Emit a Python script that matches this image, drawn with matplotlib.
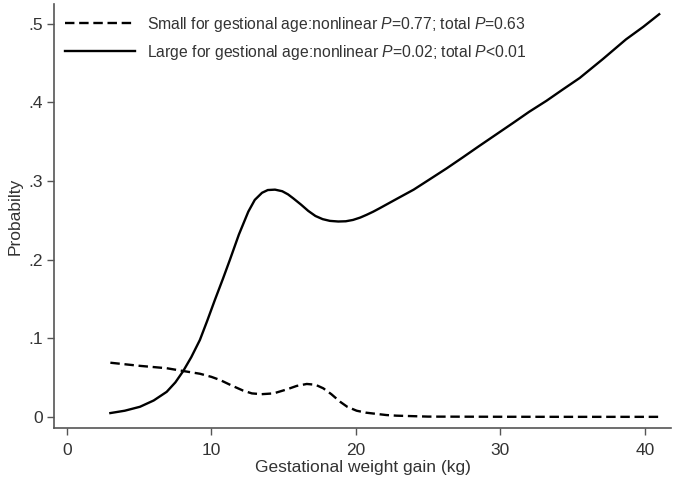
import matplotlib
matplotlib.use("Agg")
import matplotlib.pyplot as plt
import numpy as np
from matplotlib import font_manager

names = {f.name for f in font_manager.fontManager.ttflist}
fam = "Liberation Sans Narrow" if "Liberation Sans Narrow" in names else "Liberation Sans"
plt.rcParams['font.family'] = [fam, 'DejaVu Sans']
plt.rcParams['mathtext.fontset'] = 'custom'
plt.rcParams['mathtext.it'] = fam + ':italic'
plt.rcParams['mathtext.rm'] = fam

# LGA (solid)
lga_x = [3.0, 4.0, 5.05, 6.0, 6.9, 7.5, 8.03, 8.6, 9.2, 9.7, 10.24, 10.8, 11.28, 11.9, 12.55, 13.0, 13.5, 13.9, 14.4, 14.9, 15.3, 15.66, 16.2, 16.7, 17.2, 17.7, 18.2, 18.78, 19.3, 19.8, 20.3, 20.74, 21.2, 21.66, 22.8, 24.0, 25.1, 26.28, 27.4, 28.5, 29.7, 30.9, 32.0, 33.2, 34.3, 35.5, 37.1, 38.7, 39.9, 41.0]
lga_y = [0.005, 0.008, 0.013, 0.021, 0.032, 0.044, 0.058, 0.076, 0.098, 0.122, 0.149, 0.176, 0.200, 0.232, 0.261, 0.276, 0.285, 0.2885, 0.289, 0.287, 0.283, 0.278, 0.270, 0.262, 0.2555, 0.2515, 0.2493, 0.2485, 0.2488, 0.2505, 0.2535, 0.257, 0.261, 0.2655, 0.277, 0.289, 0.302, 0.316, 0.330, 0.344, 0.359, 0.374, 0.388, 0.402, 0.416, 0.431, 0.455, 0.480, 0.496, 0.512]

# SGA (dashed)
sga_x = [3.0, 5.05, 6.9, 8.03, 9.2, 10.0, 10.6, 11.4, 12.2, 12.8, 13.47, 14.3, 15.2, 15.9, 16.6, 17.2, 17.74, 18.3, 18.9, 19.4, 20.05, 20.7, 21.4, 22.1, 22.8, 25.0, 30.0, 35.0, 41.0]
sga_y = [0.069, 0.065, 0.062, 0.0585, 0.055, 0.051, 0.047, 0.040, 0.0335, 0.030, 0.029, 0.030, 0.035, 0.0395, 0.042, 0.041, 0.0365, 0.029, 0.0195, 0.013, 0.008, 0.0055, 0.004, 0.0025, 0.0017, 0.0005, 0.0003, 0.0002, 0.0002]

x_ticks = [0, 10, 20, 30, 40]
y_ticks = [0, 0.1, 0.2, 0.3, 0.4, 0.5]
y_tick_labels = ["0", ".1", ".2", ".3", ".4", ".5"]

label_sga = r"Small for gestional age:nonlinear $P$=0.77; total $P$=0.63"
label_lga = r"Large for gestional age:nonlinear $P$=0.02; total $P$<0.01"

fig = plt.figure(figsize=(6.75, 4.8), dpi=100)
ax = fig.add_axes([0.0807, 0.1083, 0.913, 0.8834])

ax.plot(sga_x, sga_y, color='black', lw=1.7, linestyle=(0, (4, 2)), label=label_sga)
ax.plot(lga_x, lga_y, color='black', lw=1.7, label=label_lga)

ax.set_xlim(-0.87, 41.8)
ax.set_ylim(-0.014, 0.525)
ax.set_xticks(x_ticks)
ax.set_yticks(y_ticks)
ax.set_yticklabels(y_tick_labels)

for s in ['top', 'right']:
    ax.spines[s].set_visible(False)
for s in ['left', 'bottom']:
    ax.spines[s].set_color('#555555')
    ax.spines[s].set_linewidth(1.2)
ax.tick_params(direction='out', length=5, width=1.0, color='#555555',
               labelcolor='#333333', labelsize=12.5)
ax.tick_params(axis='x', pad=6)

ax.set_xlabel("Gestational weight gain (kg)", fontsize=12.5, color='#333333', labelpad=1)
ax.set_ylabel("Probabilty", fontsize=12.5, color='#333333', labelpad=4)

leg = ax.legend(loc='upper left', bbox_to_anchor=(0.0, 1.0), frameon=False,
                fontsize=11.3, handlelength=4.4, handletextpad=0.8,
                labelspacing=0.55, borderaxespad=0.3)
for t in leg.get_texts():
    t.set_color('#333333')

fig.savefig("out.png", dpi=100)
